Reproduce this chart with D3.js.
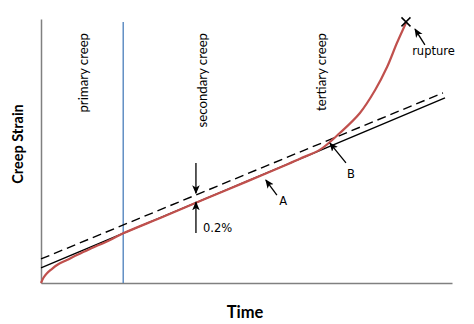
<!DOCTYPE html>
<html>
<head>
<meta charset="utf-8">
<script src="https://cdn.jsdelivr.net/npm/d3@7"></script>
<style>
  html, body { margin: 0; padding: 0; background: #fff; }
  svg { display: block; }
</style>
</head>
<body>
<svg id="chart" width="474" height="324"></svg>
<script>
// ---- data (time and strain in arbitrary units, 0-100) ----
const creepTime   = [0, 0.6, 1.4, 2.4, 4.0, 6.3, 9.0, 11.9, 16.8, 20, 30, 40, 50, 60, 63, 67.9, 72.7, 77.6, 81.3, 84.2, 86.6, 88.8];
const creepStrain = [0, 2.0, 3.6, 5.0, 6.9, 8.7, 10.8, 12.9, 16.3, 18.8, 25.3, 31.9, 38.4, 45.0, 47.1, 50.5, 56.8, 64.4, 73.1, 81.8, 90.9, 98.5];

const solidLineTime   = [0, 98.3];
const solidLineStrain = [5.7, 70.1];
const dashLineTime    = [0, 97.8];
const dashLineStrain  = [9.1, 72.0];

const phaseBoundary = 20;
const phaseNames  = ["primary creep", "secondary creep", "tertiary creep"];
const phaseLabelT = [10.2, 39.2, 68.1];
const phaseLabelS = 94.7;

const rupturePoint = [88.8, 98.9];

// arrows: [tailT, tailS, tipT, tipS]
const arrows = [
  [37.7, 45.5, 37.7, 34.0],   // down arrow to dashed line
  [37.7, 18.9, 37.7, 30.6],   // up arrow to solid line
  [57.4, 33.3, 54.7, 39.0],   // A
  [74.2, 45.5, 70.3, 53.0],   // B
  [93.4, 90.2, 91.0, 96.2]    // rupture
];
const labelText = ["0.2%", "A", "B", "rupture"];
const labelT    = [39.4, 58.9, 75.4, 90.3];
const labelS    = [19.2, 29.5, 39.8, 86.4];
const labelAnchor = ["start", "middle", "middle", "start"];

const xTitle = "Time";
const yTitle = "Creep Strain";

// ---- drawing ----
const svg = d3.select("#chart");
const x = d3.scaleLinear().domain([0, 100]).range([41, 452]);
const y = d3.scaleLinear().domain([0, 100]).range([283, 19]);

// axes (plain lines, no ticks)
const xAxis = d3.axisBottom(x).tickValues([]).tickSizeOuter(0);
const yAxis = d3.axisLeft(y).tickValues([]).tickSizeOuter(0);
svg.append("g").attr("transform", `translate(0,${y(0)})`).call(xAxis)
  .select(".domain").attr("stroke", "#808080").attr("stroke-width", 1.5);
svg.append("g").attr("transform", `translate(${x(0)},0)`).call(yAxis)
  .select(".domain").attr("stroke", "#808080").attr("stroke-width", 1.5);

// phase boundary
svg.append("line")
  .attr("x1", x(phaseBoundary)).attr("x2", x(phaseBoundary))
  .attr("y1", y(98.9)).attr("y2", y(0))
  .attr("stroke", "#4a7ebb").attr("stroke-width", 1.3);

// phase labels
svg.selectAll(".phase").data(phaseNames).enter().append("text")
  .attr("class", "phase")
  .attr("transform", (d, i) => `translate(${x(phaseLabelT[i])},${y(phaseLabelS)}) rotate(-90)`)
  .attr("dy", "0.35em")
  .attr("text-anchor", "end")
  .attr("font-family", "Lato, 'Open Sans', sans-serif")
  .attr("font-size", 13.2)
  .attr("fill", "#000")
  .text(d => d);

const lineGen = d3.line().x(d => x(d[0])).y(d => y(d[1]));

// offset lines
svg.append("path")
  .datum(solidLineTime.map((t, i) => [t, solidLineStrain[i]]))
  .attr("d", lineGen).attr("fill", "none").attr("stroke", "#000").attr("stroke-width", 1.4);
svg.append("path")
  .datum(dashLineTime.map((t, i) => [t, dashLineStrain[i]]))
  .attr("d", lineGen).attr("fill", "none").attr("stroke", "#000").attr("stroke-width", 1.4)
  .attr("stroke-dasharray", "9,5");

// creep curve
svg.append("path")
  .datum(creepTime.map((t, i) => [t, creepStrain[i]]))
  .attr("d", d3.line().x(d => x(d[0])).y(d => y(d[1])).curve(d3.curveCatmullRom.alpha(0.5)))
  .attr("fill", "none").attr("stroke", "#c0504d").attr("stroke-width", 2.2);

// rupture mark
const rx = x(rupturePoint[0]), ry = y(rupturePoint[1]), rs = 4.5;
svg.append("path")
  .attr("d", `M${rx - rs},${ry - rs}L${rx + rs},${ry + rs}M${rx - rs},${ry + rs}L${rx + rs},${ry - rs}`)
  .attr("stroke", "#000").attr("stroke-width", 1.5).attr("fill", "none");

// arrow marker
svg.append("defs").append("marker")
  .attr("id", "ah").attr("viewBox", "0 0 10 10")
  .attr("refX", 9).attr("refY", 5)
  .attr("markerWidth", 9).attr("markerHeight", 9)
  .attr("markerUnits", "userSpaceOnUse")
  .attr("orient", "auto")
  .append("path").attr("d", "M0,0.8L10,5L0,9.2L2.5,5Z").attr("fill", "#000");

svg.selectAll(".arrow").data(arrows).enter().append("line")
  .attr("class", "arrow")
  .attr("x1", d => x(d[0])).attr("y1", d => y(d[1]))
  .attr("x2", d => x(d[2])).attr("y2", d => y(d[3]))
  .attr("stroke", "#000").attr("stroke-width", 1.3)
  .attr("marker-end", "url(#ah)");

svg.selectAll(".lbl").data(labelText).enter().append("text")
  .attr("class", "lbl")
  .attr("x", (d, i) => x(labelT[i])).attr("y", (d, i) => y(labelS[i]))
  .attr("text-anchor", (d, i) => labelAnchor[i])
  .attr("font-family", "'DejaVu Sans', sans-serif")
  .attr("font-size", 11.5)
  .attr("fill", "#000")
  .text(d => d);

// axis titles
svg.append("text")
  .attr("x", 245).attr("y", 318)
  .attr("text-anchor", "middle")
  .attr("font-family", "Lato, 'Open Sans', sans-serif")
  .attr("font-weight", "bold").attr("font-size", 16.5)
  .text(xTitle);
svg.append("text")
  .attr("transform", `translate(23,144) rotate(-90)`)
  .attr("text-anchor", "middle")
  .attr("font-family", "Lato, 'Open Sans', sans-serif")
  .attr("font-weight", "bold").attr("font-size", 14.5)
  .text(yTitle);
</script>
</body>
</html>
